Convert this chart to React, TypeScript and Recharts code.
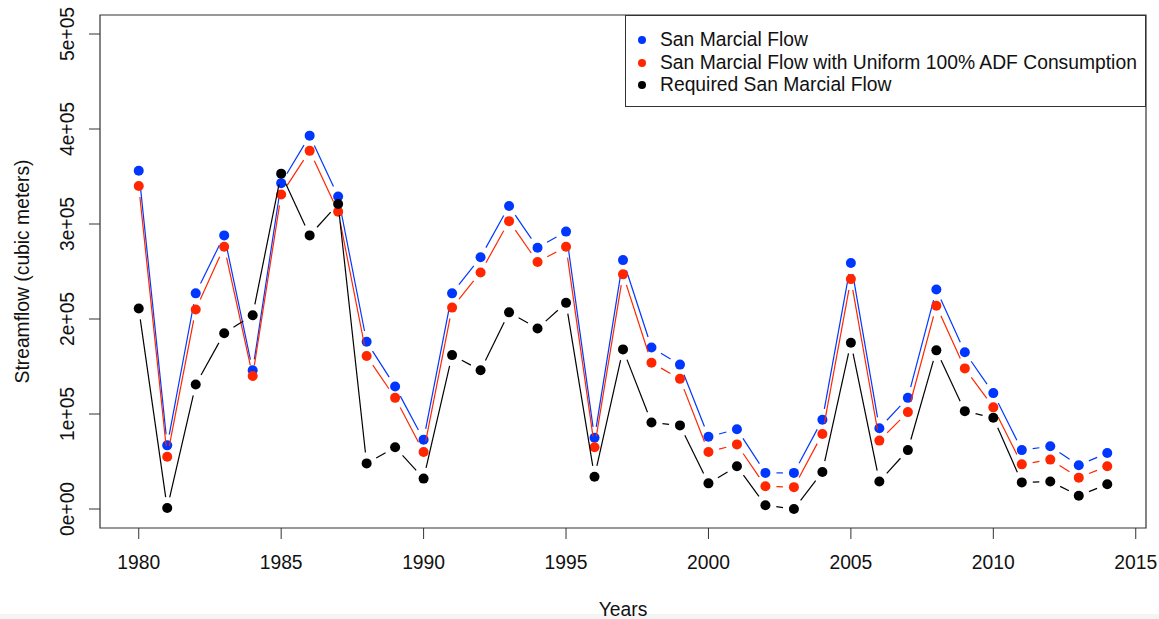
import React from 'react'
import { ComposedChart, Line, XAxis, YAxis, ReferenceArea, Legend } from 'recharts'

// annual streamflow, cubic meters
const years = [
  1980, 1981, 1982, 1983, 1984, 1985, 1986, 1987, 1988, 1989, 1990, 1991, 1992, 1993, 1994, 1995, 1996, 1997,
  1998, 1999, 2000, 2001, 2002, 2003, 2004, 2005, 2006, 2007, 2008, 2009, 2010, 2011, 2012, 2013, 2014,
]
const sanMarcialFlow = [
  356000, 67000, 227000, 288000, 146000, 343000, 393000, 329000, 176000, 129000, 73000, 227000, 265000, 319000,
  275000, 292000, 75000, 262000, 170000, 152000, 76000, 84000, 38000, 38000, 94000, 259000, 85000, 117000, 231000,
  165000, 122000, 62000, 66000, 46000, 59000,
]
const adfConsumptionFlow = [
  340000, 55000, 210000, 276000, 140000, 331000, 377000, 313000, 161000, 117000, 60000, 212000, 249000, 303000,
  260000, 276000, 65000, 247000, 154000, 137000, 60000, 68000, 24000, 23000, 79000, 242000, 72000, 102000, 214000,
  148000, 107000, 47000, 52000, 33000, 45000,
]
const requiredFlow = [
  211000, 1000, 131000, 185000, 204000, 353000, 288000, 321000, 48000, 65000, 32000, 162000, 146000, 207000,
  190000, 217000, 34000, 168000, 91000, 88000, 27000, 45000, 4000, 0, 39000, 175000, 29000, 62000, 167000, 103000,
  96000, 28000, 29000, 14000, 26000,
]

const xTicks = [1980, 1985, 1990, 1995, 2000, 2005, 2010, 2015]
const yTicks = [0, 100000, 200000, 300000, 400000, 500000]
const yTickLabels = ['0e+00', '1e+05', '2e+05', '3e+05', '4e+05', '5e+05']

const X_DOMAIN: [number, number] = [1978.64, 2015.36]
const Y_DOMAIN: [number, number] = [-20000, 520000]

const BLUE = '#0037ff'
const RED = '#ff2600'
const BLACK = '#000000'
const FONT = '"Liberation Sans", Arial, Helvetica, sans-serif'
const FONT_SIZE = 19.3

const series = [
  { key: 'flow', name: 'San Marcial Flow', color: BLUE },
  { key: 'adf', name: 'San Marcial Flow with Uniform 100% ADF Consumption', color: RED },
  { key: 'required', name: 'Required San Marcial Flow', color: BLACK },
]

const data = years.map((year, i) => ({
  year,
  flow: sanMarcialFlow[i],
  adf: adfConsumptionFlow[i],
  required: requiredFlow[i],
}))

const GAP = 11
const POINT_R = 5

// "both" style: segments stop short of each point, then the filled point on top
function makeDot(color: string) {
  let prev: { x: number; y: number } | null = null
  return (props: any) => {
    const { cx, cy, index } = props
    if (index === 0) prev = null
    let seg = null
    if (prev && cx != null && cy != null) {
      const dx = cx - prev.x
      const dy = cy - prev.y
      const d = Math.hypot(dx, dy)
      if (d > 2 * GAP) {
        const ux = dx / d
        const uy = dy / d
        seg = (
          <line
            x1={prev.x + ux * GAP}
            y1={prev.y + uy * GAP}
            x2={cx - ux * GAP}
            y2={cy - uy * GAP}
            stroke={color}
            strokeWidth={1.2}
          />
        )
      }
    }
    prev = { x: cx, y: cy }
    return (
      <g key={`pt-${index}`}>
        {seg}
        <circle cx={cx} cy={cy} r={POINT_R} fill={color} />
      </g>
    )
  }
}

const XTick = ({ x, y, payload }: any) => (
  <text x={x} y={y} dy={28} textAnchor="middle" fontSize={FONT_SIZE} fill="#111" fontFamily={FONT}>
    {payload.value}
  </text>
)

const YTick = ({ x, y, payload }: any) => {
  const i = yTicks.indexOf(payload.value)
  const bx = x - 13
  return (
    <text
      x={bx}
      y={y}
      transform={`rotate(-90, ${bx}, ${y})`}
      textAnchor="middle"
      fontSize={FONT_SIZE}
      fill="#111"
      fontFamily={FONT}
    >
      {yTickLabels[i]}
    </text>
  )
}

const YTitle = ({ viewBox }: any) => {
  const x = 29
  const y = viewBox.y + viewBox.height / 2
  return (
    <text
      x={x}
      y={y}
      transform={`rotate(-90, ${x}, ${y})`}
      textAnchor="middle"
      fontSize={FONT_SIZE}
      fill="#111"
      fontFamily={FONT}
    >
      Streamflow (cubic meters)
    </text>
  )
}

const XTitle = ({ viewBox }: any) => (
  <text
    x={viewBox.x + viewBox.width / 2}
    y={viewBox.y + 87.5}
    textAnchor="middle"
    fontSize={FONT_SIZE}
    fill="#111"
    fontFamily={FONT}
  >
    Years
  </text>
)

const LegendBox = () => (
  <div
    style={{
      position: 'relative',
      width: 521,
      height: 92,
      boxSizing: 'border-box',
      border: '1px solid #333',
      background: '#fff',
      fontFamily: FONT,
      fontSize: FONT_SIZE,
      color: '#111',
    }}
  >
    {series.map((s, i) => (
      <div
        key={s.key}
        style={{
          position: 'absolute',
          left: 0,
          top: 13 + i * 22.5,
          height: 22.5,
          display: 'flex',
          alignItems: 'center',
          whiteSpace: 'nowrap',
        }}
      >
        <span
          style={{
            display: 'inline-block',
            width: 8,
            height: 8,
            borderRadius: 4,
            background: s.color,
            marginLeft: 12,
            marginRight: 14,
          }}
        />
        <span>{s.name}</span>
      </div>
    ))}
  </div>
)

export default function App() {
  return (
    <div style={{ position: 'absolute', left: 0, top: 0, width: 1159, height: 619, background: '#fff' }}>
      <div style={{ position: 'absolute', left: 0, top: 614, width: 1159, height: 5, background: '#f4f4f4' }} />
      <ComposedChart
        width={1159}
        height={619}
        data={data}
        margin={{ top: 15, right: 13, bottom: 0, left: 0 }}
        style={{ position: 'absolute', left: 0, top: 0 }}
      >
        <XAxis
          dataKey="year"
          type="number"
          domain={X_DOMAIN}
          ticks={xTicks}
          allowDataOverflow
          height={91}
          axisLine={false}
          tickLine={{ stroke: '#333' }}
          tickSize={11}
          tick={<XTick />}
          label={<XTitle />}
        />
        <YAxis
          type="number"
          domain={Y_DOMAIN}
          ticks={yTicks}
          allowDataOverflow
          width={100}
          axisLine={false}
          tickLine={{ stroke: '#333' }}
          tickSize={11}
          tick={<YTick />}
          label={<YTitle />}
        />
        <ReferenceArea
          x1={X_DOMAIN[0]}
          x2={X_DOMAIN[1]}
          y1={Y_DOMAIN[0]}
          y2={Y_DOMAIN[1]}
          fill="none"
          stroke="#333"
          strokeWidth={1.2}
          ifOverflow="visible"
        />
        {series.map((s) => (
          <Line
            key={s.key}
            dataKey={s.key}
            name={s.name}
            stroke="none"
            dot={makeDot(s.color)}
            activeDot={false}
            isAnimationActive={false}
          />
        ))}
        <Legend
          layout="horizontal"
          verticalAlign="middle"
          align="center"
          content={<LegendBox />}
          wrapperStyle={{ left: 625, top: 15, width: 521, height: 92 }}
        />
      </ComposedChart>
    </div>
  )
}
